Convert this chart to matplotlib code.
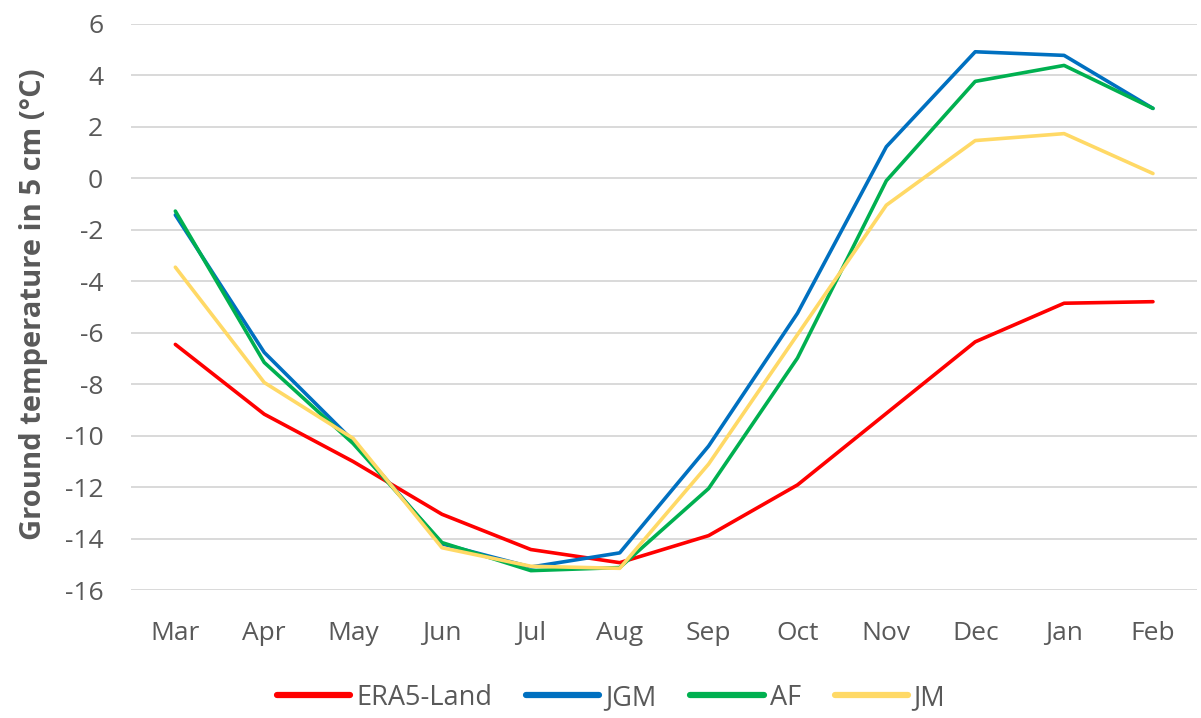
import matplotlib
matplotlib.use("Agg")
import matplotlib.pyplot as plt

months = ["Mar", "Apr", "May", "Jun", "Jul", "Aug", "Sep", "Oct", "Nov", "Dec", "Jan", "Feb"]
era5_land = [-6.45, -9.16, -11.0, -13.05, -14.42, -14.93, -13.88, -11.91, -9.13, -6.35, -4.85, -4.79]
jgm = [-1.42, -6.76, -10.2, -14.2, -15.1, -14.55, -10.4, -5.24, 1.23, 4.92, 4.78, 2.72]
af = [-1.27, -7.15, -10.3, -14.15, -15.24, -15.12, -12.05, -6.98, -0.09, 3.77, 4.39, 2.72]
jm = [-3.45, -7.93, -10.1, -14.35, -15.07, -15.15, -11.1, -6.07, -1.04, 1.47, 1.74, 0.19]

series_names = ["ERA5-Land", "JGM", "AF", "JM"]
series_colors = ["#FF0000", "#0070C0", "#00B050", "#FFD966"]
yticks = [6, 4, 2, 0, -2, -4, -6, -8, -10, -12, -14, -16]

plt.rcParams['font.family'] = ['Open Sans', 'DejaVu Sans']
fig = plt.figure(figsize=(12.01, 7.18), dpi=100)
ax = fig.add_axes([0.109, 0.178, 0.888, 0.7886])

x = list(range(len(months)))
for vals, name, col in zip([era5_land, jgm, af, jm], series_names, series_colors):
    ax.plot(x, vals, color=col, lw=2.6, label=name, solid_joinstyle='round', solid_capstyle='round')

ax.set_xlim(-0.5, len(months) - 0.5)
ax.set_ylim(-16, 6)
ax.set_yticks(yticks)
ax.set_yticklabels([str(v) for v in yticks])
ax.set_xticks(x)
ax.set_xticklabels(months)
ax.grid(axis='y', color='#D9D9D9', lw=1.4)
ax.set_axisbelow(True)
for s in ax.spines.values():
    s.set_visible(False)
ax.tick_params(axis='both', length=0, colors='#595959', labelsize=19)
ax.tick_params(axis='x', pad=22)
ax.tick_params(axis='y', pad=20)
ax.set_ylabel("Ground temperature in 5 cm (°C)", fontsize=21, fontweight='bold', color='#595959')
ax.yaxis.set_label_coords(-0.078, 0.505)

leg = fig.legend(loc='center', bbox_to_anchor=(0.509, 0.028), ncol=4, frameon=False,
                 fontsize=19.5, handlelength=2.7, handletextpad=0.22, columnspacing=1.25)
for t in leg.get_texts():
    t.set_color('#595959')
for h in leg.get_lines():
    h.set_linewidth(4.5)
    h.set_solid_capstyle('round')

fig.savefig("out.png", dpi=100)
